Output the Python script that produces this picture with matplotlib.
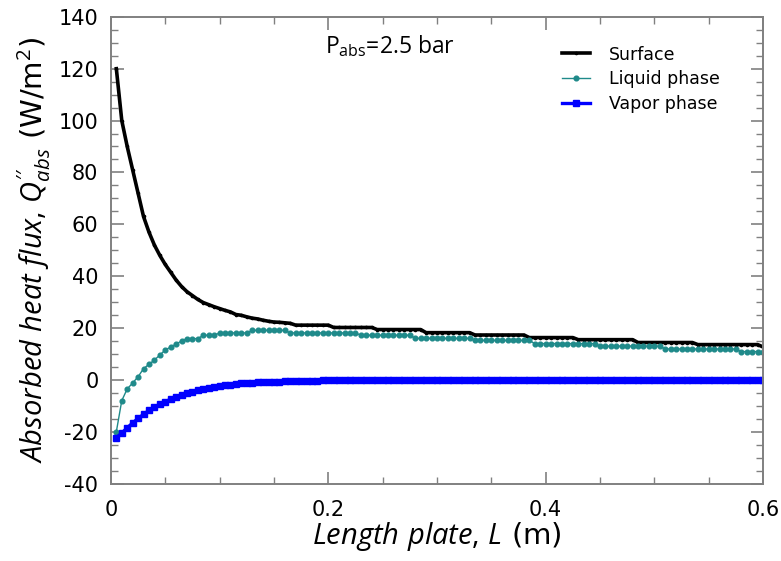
import matplotlib
matplotlib.use("Agg")
import matplotlib.pyplot as plt
from matplotlib.ticker import MultipleLocator

plt.rcParams['font.family'] = ['DejaVu Sans']
plt.rcParams['axes.unicode_minus'] = False
plt.rcParams['mathtext.fontset'] = 'custom'
plt.rcParams['mathtext.rm'] = 'Open Sans'
plt.rcParams['mathtext.it'] = 'Open Sans:italic'
plt.rcParams['mathtext.bf'] = 'Open Sans:bold'

length_m = [
    0.005, 0.010, 0.015, 0.020, 0.025, 0.030, 0.035, 0.040, 0.045, 0.050,
    0.055, 0.060, 0.065, 0.070, 0.075, 0.080, 0.085, 0.090, 0.095, 0.100,
    0.105, 0.110, 0.115, 0.120, 0.125, 0.130, 0.135, 0.140, 0.145, 0.150,
    0.155, 0.160, 0.165, 0.170, 0.175, 0.180, 0.185, 0.190, 0.195, 0.200,
    0.205, 0.210, 0.215, 0.220, 0.225, 0.230, 0.235, 0.240, 0.245, 0.250,
    0.255, 0.260, 0.265, 0.270, 0.275, 0.280, 0.285, 0.290, 0.295, 0.300,
    0.305, 0.310, 0.315, 0.320, 0.325, 0.330, 0.335, 0.340, 0.345, 0.350,
    0.355, 0.360, 0.365, 0.370, 0.375, 0.380, 0.385, 0.390, 0.395, 0.400,
    0.405, 0.410, 0.415, 0.420, 0.425, 0.430, 0.435, 0.440, 0.445, 0.450,
    0.455, 0.460, 0.465, 0.470, 0.475, 0.480, 0.485, 0.490, 0.495, 0.500,
    0.505, 0.510, 0.515, 0.520, 0.525, 0.530, 0.535, 0.540, 0.545, 0.550,
    0.555, 0.560, 0.565, 0.570, 0.575, 0.580, 0.585, 0.590, 0.595, 0.600,
]

surface = [
    120.0, 100.0, 90.0, 81.0, 72.0, 63.0, 57.0, 52.0, 48.0, 44.5,
    41.5, 38.5, 36.0, 34.0, 32.5, 31.0, 29.8, 29.0, 28.2, 27.5,
    26.8, 26.2, 25.2, 24.9, 24.3, 23.8, 23.5, 23.0, 22.6, 22.3,
    22.2, 22.0, 21.8, 21.1, 21.1, 21.1, 21.1, 21.1, 21.1, 21.1,
    20.2, 20.2, 20.2, 20.2, 20.2, 20.2, 20.2, 20.2, 19.4, 19.4,
    19.4, 19.4, 19.4, 19.4, 19.4, 19.4, 19.4, 18.2, 18.2, 18.2,
    18.2, 18.2, 18.2, 18.2, 18.2, 18.2, 17.3, 17.3, 17.3, 17.3,
    17.3, 17.3, 17.3, 17.3, 17.3, 17.3, 16.3, 16.3, 16.3, 16.3,
    16.3, 16.3, 16.3, 16.3, 16.3, 15.5, 15.5, 15.5, 15.5, 15.5,
    15.5, 15.5, 15.5, 15.5, 15.5, 15.5, 14.4, 14.4, 14.4, 14.4,
    14.4, 14.4, 14.4, 14.4, 14.4, 14.4, 14.4, 13.6, 13.6, 13.6,
    13.6, 13.6, 13.6, 13.6, 13.6, 13.6, 13.6, 13.6, 13.6, 12.7,
]

liquid = [
    -20.0, -8.0, -3.5, -1.2, 1.2, 4.3, 6.0, 7.6, 9.6, 11.5,
    12.7, 13.8, 15.0, 15.9, 15.9, 15.9, 17.2, 17.2, 17.2, 18.1,
    18.1, 18.1, 18.1, 18.1, 18.1, 19.1, 19.1, 19.1, 19.1, 19.1,
    19.1, 19.1, 18.1, 18.1, 18.1, 18.1, 18.1, 18.1, 18.1, 18.1,
    18.1, 18.1, 18.1, 18.1, 18.1, 17.2, 17.2, 17.2, 17.2, 17.2,
    17.2, 17.2, 17.2, 17.2, 17.2, 16.0, 16.0, 16.0, 16.0, 16.0,
    16.0, 16.0, 16.0, 16.0, 16.0, 16.0, 15.2, 15.2, 15.2, 15.2,
    15.2, 15.2, 15.2, 15.2, 15.2, 15.2, 15.2, 14.0, 14.0, 14.0,
    14.0, 14.0, 14.0, 14.0, 14.0, 14.0, 14.0, 14.0, 14.0, 13.0,
    13.0, 13.0, 13.0, 13.0, 13.0, 13.0, 13.0, 13.0, 13.0, 13.0,
    13.0, 11.9, 11.9, 11.9, 11.9, 11.9, 11.9, 11.9, 11.9, 11.9,
    11.9, 11.9, 11.9, 11.9, 11.9, 10.9, 10.9, 10.9, 10.9, 10.9,
]

vapor = [
    -22.3, -20.5, -18.5, -16.6, -14.9, -13.3, -11.8, -10.5, -9.4, -8.4,
    -7.5, -6.7, -5.8, -5.1, -4.5, -4.0, -3.5, -3.1, -2.7, -2.4,
    -2.1, -1.8, -1.6, -1.4, -1.2, -1.1, -1.0, -0.9, -0.8, -0.8,
    -0.7, -0.6, -0.6, -0.5, -0.5, -0.4, -0.4, -0.3, -0.2, -0.1,
    -0.1, -0.1, -0.1, -0.1, -0.1, -0.1, -0.1, -0.1, -0.1, -0.1,
    -0.1, -0.1, -0.1, -0.1, -0.1, -0.1, -0.1, -0.1, -0.1, -0.1,
    -0.1, -0.1, -0.1, -0.1, -0.1, -0.1, 0.0, 0.0, 0.0, 0.0,
    0.0, 0.0, 0.0, 0.0, 0.0, 0.0, 0.0, 0.0, 0.0, 0.0,
    0.0, 0.0, 0.0, 0.0, 0.0, 0.0, 0.0, 0.0, 0.0, 0.0,
    0.0, 0.0, 0.0, 0.0, 0.0, 0.0, 0.0, 0.0, 0.0, 0.0,
    0.0, 0.0, 0.0, 0.0, 0.0, 0.0, 0.0, 0.0, 0.0, 0.0,
    0.0, 0.0, 0.0, 0.0, 0.0, 0.0, 0.0, 0.0, 0.0, 0.0,
]

series_names = ["Surface", "Liquid phase", "Vapor phase"]

fig = plt.figure(figsize=(7.81, 5.61), dpi=100)
ax = fig.add_axes([0.142, 0.138, 0.835, 0.832])

ax.plot(length_m, surface, color="black", lw=2.6, marker="o", ms=1.6,
        label=series_names[0])
ax.plot(length_m, liquid, color="#1f8a8a", lw=1.0, marker="o", ms=3.4,
        label=series_names[1])
ax.plot(length_m, vapor, color="#0000ff", lw=2.4, marker="s", ms=4.5,
        label=series_names[2])

ax.set_xlim(0, 0.6)
ax.set_ylim(-40, 140)
ax.xaxis.set_major_locator(MultipleLocator(0.2))
ax.xaxis.set_minor_locator(MultipleLocator(0.05))
ax.yaxis.set_major_locator(MultipleLocator(20))
ax.yaxis.set_minor_locator(MultipleLocator(5))
ax.xaxis.set_major_formatter(plt.FuncFormatter(lambda v, p: ("%g" % round(v, 2))))

spine_col = "#808080"
for s in ax.spines.values():
    s.set_color(spine_col)
    s.set_linewidth(1.4)
ax.tick_params(which="both", direction="in", top=True, right=True,
               color=spine_col, labelsize=15)
ax.tick_params(axis="x", which="major", pad=12)
ax.tick_params(axis="y", which="major", pad=9)
ax.tick_params(which="major", length=9, width=1.2)
ax.tick_params(which="minor", length=5, width=1.0)

ax.set_xlabel(r"$\mathit{Length\ plate{,}\ L}$ (m)", fontsize=21, labelpad=0)
ax.set_ylabel(r"$\mathit{Absorbed\ heat\ flux{,}\ Q}^{\prime\prime}_{\mathit{abs}}$ (W/m$^2$)",
              fontsize=21, labelpad=4)

ax.text(0.328, 0.965, r"P$_{\mathrm{abs}}$=2.5 bar", transform=ax.transAxes,
        fontsize=16.5, family="Open Sans", va="top", ha="left")

leg = ax.legend(loc="upper right", bbox_to_anchor=(0.958, 0.972), frameon=False,
                handlelength=1.6, labelspacing=0.4, handletextpad=1.1,
                prop={"family": "DejaVu Sans", "size": 12.5})

fig.savefig("out.png", dpi=100)
